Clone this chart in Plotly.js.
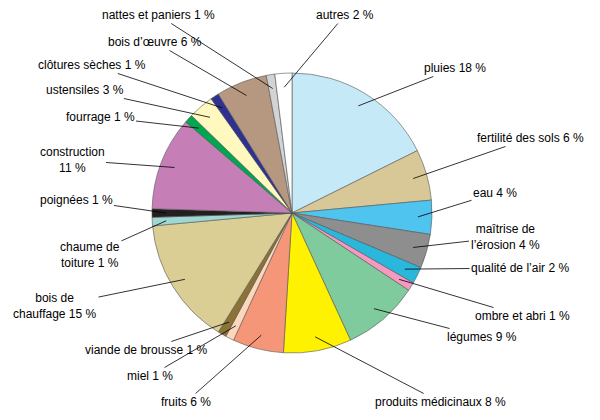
<!DOCTYPE html>
<html><head><meta charset="utf-8">
<script src="https://cdn.plot.ly/plotly-3.0.1.min.js"></script>
<style>body{margin:0;background:#fff}</style>
</head><body>
<div id="chart" style="width:600px;height:420px"></div>
<script>
var labels = ['pluies 18 %', 'fertilité des sols 6 %', 'eau 4 %', 'maîtrise de<br>l’érosion 4 %', 'qualité de l’air 2 %',
  'ombre et abri 1 %', 'légumes 9 %', 'produits médicinaux 8 %', 'fruits 6 %', 'miel 1 %', 'viande de brousse 1 %',
  'bois de<br>chauffage 15 %', 'chaume de<br>toiture 1 %', 'poignées 1 %', 'construction<br>11 %', 'fourrage 1 %',
  'ustensiles 3 %', 'clôtures sèches 1 %', 'bois d’œuvre 6 %', 'nattes et paniers 1 %', 'autres 2 %'];
var values = [18, 6, 4, 4, 2, 1, 9, 8, 6, 1, 1, 15, 1, 1, 11, 1, 3, 1, 6, 1, 2];
var colors = ['#c6e9f8', '#d8c897', '#4ec4ef', '#8e8e8e', '#2ab7dc', '#f49ac1', '#80cb9e', '#fff200', '#f59679',
  '#fcd7bb', '#8a7334', '#dbce95', '#9fd8d2', '#231f20', '#c67fb6', '#00a651', '#fff9c0', '#2e3192', '#b6977f',
  '#d1d3d4', '#ffffff'];
// label centres in pixels (layout)
var labelPos = [[455,68],[530,138],[495,193],[505,237],[520,268],[522,316],[482,337],[440,402],[186,402],[150,376],
  [146,350],[55,306],[90,255],[76,200],[72,160],[100,117],[85,90],[92,65],[155,42],[158,15],[345,15]];

var W = 600, H = 420, cx = 292, cy = 213, R = 140;
var total = values.reduce(function (a, b) { return a + b; }, 0);
var cum = 0, annotations = [];
values.forEach(function (v, i) {
  var th = 2 * Math.PI * (cum + v / 2) / total;
  cum += v;
  var tx = cx + R * 0.9 * Math.sin(th), ty = cy - R * 0.9 * Math.cos(th);
  annotations.push({
    x: tx / W, y: 1 - ty / H, xref: 'paper', yref: 'paper',
    text: labels[i], showarrow: true, arrowhead: 0, arrowwidth: 0.8, arrowcolor: '#000',
    ax: labelPos[i][0] - tx, ay: labelPos[i][1] - ty,
    font: { size: 12, color: '#000' }, align: 'center'
  });
});

Plotly.newPlot('chart', [{
  type: 'pie', labels: labels, values: values, sort: false, direction: 'clockwise',
  textinfo: 'none', hoverinfo: 'label',
  marker: { colors: colors, line: { color: '#555', width: 0.6 } },
  domain: { x: [(cx - R) / W, (cx + R) / W], y: [1 - (cy + R) / H, 1 - (cy - R) / H] }
}], {
  width: W, height: H, margin: { l: 0, r: 0, t: 0, b: 0 }, showlegend: false,
  font: { family: 'Liberation Sans, Arial, sans-serif' },
  annotations: annotations
}, { staticPlot: true });
</script>
</body></html>
